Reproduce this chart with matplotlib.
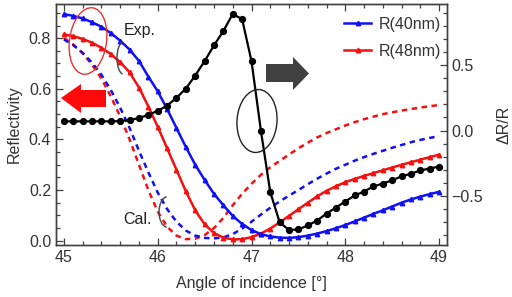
import matplotlib
matplotlib.use("Agg")
import matplotlib.pyplot as plt
from matplotlib.patches import Ellipse, Arc, Polygon
from matplotlib.lines import Line2D
import numpy as np

plt.rcParams['font.family'] = ['Liberation Sans', 'DejaVu Sans']

# ---- data ----
angle = [45.0, 45.1, 45.2, 45.3, 45.4, 45.5, 45.6, 45.7, 45.8, 45.9,
         46.0, 46.1, 46.2, 46.3, 46.4, 46.5, 46.6, 46.7, 46.8, 46.9,
         47.0, 47.1, 47.2, 47.3, 47.4, 47.5, 47.6, 47.7, 47.8, 47.9,
         48.0, 48.1, 48.2, 48.3, 48.4, 48.5, 48.6, 48.7, 48.8, 48.9, 49.0]

r40_exp = [0.895, 0.888, 0.878, 0.863, 0.845, 0.82, 0.79, 0.755, 0.71, 0.648,
           0.59, 0.52, 0.445, 0.37, 0.30, 0.24, 0.185, 0.14, 0.098, 0.066,
           0.042, 0.026, 0.017, 0.012, 0.011, 0.014, 0.02, 0.028, 0.038, 0.049,
           0.062, 0.076, 0.091, 0.106, 0.12, 0.135, 0.15, 0.163, 0.174, 0.184, 0.193]

r48_exp = [0.815, 0.808, 0.797, 0.782, 0.762, 0.737, 0.705, 0.665, 0.605, 0.53,
           0.45, 0.365, 0.28, 0.195, 0.12, 0.065, 0.03, 0.012, 0.005, 0.006,
           0.014, 0.028, 0.048, 0.072, 0.098, 0.124, 0.15, 0.175, 0.197, 0.215,
           0.231, 0.244, 0.256, 0.267, 0.278, 0.289, 0.30, 0.31, 0.32, 0.33, 0.34]

r40_cal = [0.795, 0.772, 0.742, 0.703, 0.655, 0.595, 0.525, 0.445, 0.355, 0.27,
           0.19, 0.125, 0.075, 0.04, 0.02, 0.011, 0.009, 0.013, 0.026, 0.048,
           0.075, 0.103, 0.13, 0.155, 0.178, 0.20, 0.223, 0.245, 0.265, 0.284,
           0.30, 0.316, 0.33, 0.343, 0.355, 0.367, 0.378, 0.389, 0.398, 0.406, 0.413]

r48_cal = [0.80, 0.775, 0.74, 0.695, 0.64, 0.57, 0.49, 0.40, 0.30, 0.20,
           0.115, 0.055, 0.02, 0.006, 0.008, 0.022, 0.05, 0.09, 0.14, 0.185,
           0.225, 0.26, 0.29, 0.315, 0.34, 0.365, 0.387, 0.408, 0.425, 0.44,
           0.455, 0.468, 0.48, 0.49, 0.50, 0.507, 0.514, 0.52, 0.526, 0.531, 0.536]

dRR = [0.07, 0.07, 0.07, 0.07, 0.07, 0.07, 0.072, 0.08, 0.095, 0.12,
       0.15, 0.19, 0.25, 0.32, 0.42, 0.53, 0.65, 0.76, 0.89, 0.85,
       0.53, 0.0, -0.47, -0.70, -0.76, -0.755, -0.725, -0.687, -0.634, -0.588,
       -0.542, -0.496, -0.466, -0.427, -0.405, -0.38, -0.35, -0.33, -0.305, -0.29, -0.275]

legend_labels = ["R(40nm)", "R(48nm)"]

BLUE = "#1010f5"
RED = "#f51010"
TXT = "#333333"

W, H = 512, 297
fig = plt.figure(figsize=(W / 100, H / 100), dpi=100)
L, R, T, B = 56, 447, 4, 245
ax = fig.add_axes([L / W, 1 - B / H, (R - L) / W, (B - T) / H])
ax2 = ax.twinx()

# calculated (dashed)
ax.plot(angle, r48_cal, color=RED, lw=1.8, ls=(0, (2.2, 1.8)), zorder=2)
ax.plot(angle, r40_cal, color=BLUE, lw=1.8, ls=(0, (2.2, 1.8)), zorder=2)
# experimental (solid + markers)
ax.plot(angle, r48_exp, color=RED, lw=1.8, marker='^', ms=3.2, zorder=3)
ax.plot(angle, r40_exp, color=BLUE, lw=1.8, marker='^', ms=3.2, zorder=3)

ax2.plot(angle, dRR, color='black', lw=1.6, marker='o', ms=4.2, zorder=4)

ax.set_xlim(44.915, 49.085)
ax.set_ylim(-0.017, 0.935)
ax2.set_ylim(-0.874, 0.966)

ax.set_xticks([45, 46, 47, 48, 49])
ax.set_xticks(np.arange(45, 49.01, 0.2), minor=True)
ax.set_yticks([0.0, 0.2, 0.4, 0.6, 0.8])
ax.set_yticks(np.arange(0, 0.91, 0.05), minor=True)
ax.set_yticklabels(["0.0", "0.2", "0.4", "0.6", "0.8"])
ax2.set_yticks([-0.5, 0.0, 0.5])
ax2.set_yticks(np.arange(-0.8, 0.91, 0.1), minor=True)
ax2.set_yticklabels(["\u22120.5", "0.0", "0.5"])

fs = 11.5
ax.tick_params(axis='both', which='both', direction='in', colors='#404040',
               labelcolor=TXT, labelsize=fs, width=0.9)
ax.tick_params(axis='x', which='both', top=True)
ax.tick_params(axis='y', which='both', right=False)
ax.tick_params(which='major', length=5)
ax.tick_params(which='minor', length=3)
ax2.tick_params(axis='y', which='both', direction='in', colors='#404040',
                labelcolor=TXT, labelsize=fs, width=0.9, pad=3)
ax2.tick_params(which='major', length=5)
ax2.tick_params(which='minor', length=3)
for a in (ax, ax2):
    for s in a.spines.values():
        s.set_color('#404040')
        s.set_linewidth(1.0)

ax.set_xlabel("Angle of incidence [\u00b0]", fontsize=fs, color=TXT, labelpad=8)
ax.set_ylabel("Reflectivity", fontsize=fs, color=TXT, labelpad=5)
ax2.set_ylabel("\u0394R/R", fontsize=fs, color=TXT, labelpad=10)

handles = [Line2D([], [], color=BLUE, lw=1.8, marker='^', ms=3.2, markevery=[1]),
           Line2D([], [], color=RED, lw=1.8, marker='^', ms=3.2, markevery=[1])]
for h in handles:
    h.set_data([0, 0.5, 1], [0, 0, 0])
leg = ax2.legend(handles, legend_labels, loc='upper left',
                 bbox_to_anchor=((344 - L) / (R - L), (B - 17) / (B - T)),
                 frameon=False, fontsize=fs, handlelength=1.7, handletextpad=0.5,
                 labelspacing=0.75, borderpad=0, borderaxespad=0)
for t in leg.get_texts():
    t.set_color(TXT)

# ---- annotations (pixel positions -> inches) ----
def P(px, py):
    return (px / 100.0, (H - py) / 100.0)

tr = fig.dpi_scale_trans
fig.add_artist(Ellipse(P(88, 41), 37 / 100, 67 / 100, angle=-8, fill=False,
                       ec='#ee3030', lw=1.0, transform=tr, zorder=10))
fig.add_artist(Ellipse(P(257, 121), 40 / 100, 63 / 100, angle=-4, fill=False,
                       ec='#222222', lw=1.0, transform=tr, zorder=10))
fig.add_artist(Arc(P(124, 58), 14 / 100, 33 / 100, theta1=95, theta2=265,
                   ec='#444444', lw=1.0, transform=tr, zorder=10))
fig.add_artist(Arc(P(168, 212), 18 / 100, 31 / 100, theta1=95, theta2=265,
                   ec='#444444', lw=1.0, transform=tr, zorder=10))

red_arrow = [P(61, 98), P(81, 84), P(81, 90), P(106, 90), P(106, 107), P(81, 107), P(81, 113)]
fig.add_artist(Polygon(red_arrow, closed=True, fc='#ff0a0a', ec='none', transform=tr, zorder=10))
gray_arrow = [P(266, 64), P(293, 64), P(293, 57), P(309, 73.5), P(293, 90), P(293, 82), P(266, 82)]
fig.add_artist(Polygon(gray_arrow, closed=True, fc='#404040', ec='none', transform=tr, zorder=10))

fig.text(*[v / fig.get_size_inches()[i] for i, v in enumerate(P(140, 30))], "Exp.",
         ha='center', va='center', fontsize=fs, color='#222222')
fig.text(*[v / fig.get_size_inches()[i] for i, v in enumerate(P(138, 220))], "Cal.",
         ha='center', va='center', fontsize=fs, color='#222222')

fig.savefig("out.png", dpi=100)
